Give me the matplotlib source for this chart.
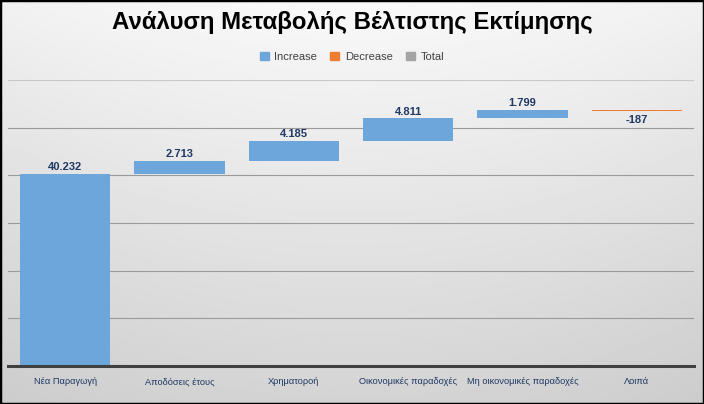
import numpy as np
import matplotlib
matplotlib.use('Agg')
from matplotlib import pyplot as plt
from matplotlib.patches import Patch, Rectangle

plt.rcParams['font.family'] = ['Liberation Sans', 'DejaVu Sans']

categories = ['Νέα Παραγωγή', 'Αποδόσεις έτους', 'Χρηματοροή',
              'Οικονομικές παραδοχές', 'Μη οικονομικές παραδοχές', 'Λοιπά']
values = [40232, 2713, 4185, 4811, 1799, -187]
labels = ['40.232', '2.713', '4.185', '4.811', '1.799', '-187']

blue = '#6ca6da'
orange = '#ed7d31'
gray = '#a5a5a5'
navy = '#1f3864'

values = np.array(values)
ends = np.cumsum(values)
starts = ends - values
bottoms = np.minimum(starts, ends)
heights = np.abs(values)
colors = [blue if v >= 0 else orange for v in values]

fig = plt.figure(figsize=(7.04, 4.04), dpi=100)

# background gradient
bg = fig.add_axes([0, 0, 1, 1], zorder=-10)
grad = np.linspace(0.975, 0.83, 256).reshape(-1, 1)
xs = np.linspace(-1, 1, 256)
grad = grad - 0.03 * (xs.reshape(1, -1) ** 2)
bg.imshow(grad, cmap='gray', vmin=0, vmax=1, aspect='auto', extent=[0, 1, 0, 1])
bg.set_axis_off()

ax = fig.add_axes([8 / 704, 38 / 404, 686 / 704, 286 / 404])
ax.patch.set_alpha(0)
x = np.arange(len(categories))
ax.bar(x, heights, bottom=bottoms, width=0.79, color=colors, zorder=3)
for i, v in enumerate(values):
    top = max(starts[i], ends[i])
    low = min(starts[i], ends[i])
    if v >= 0:
        ax.text(i, top + 400, labels[i], ha='center', va='bottom', fontsize=8,
                fontweight='bold', color=navy, zorder=4)
    else:
        ax.text(i, low - 900, labels[i], ha='center', va='top', fontsize=8,
                fontweight='bold', color=navy, zorder=4)

ax.set_ylim(0, 60000)
ax.set_xlim(-0.5, len(categories) - 0.5)
ax.set_yticks(np.arange(10000, 60001, 10000))
ax.yaxis.grid(True, color='#9a9a9a', lw=0.8)
ax.get_ygridlines()[-1].set_color('#c8c8c8')
ax.tick_params(axis='y', length=0, labelleft=False)
ax.set_xticks(x)
ax.tick_params(axis='x', length=0, labelbottom=False)
# category labels on a common baseline
for i, name in enumerate(categories):
    ax.text(x[i], -0.063, name, transform=ax.get_xaxis_transform(), ha='center',
            va='baseline', fontsize=6.7, color=navy)
for s in ['top', 'right', 'left']:
    ax.spines[s].set_visible(False)
ax.spines['bottom'].set_color('#404040')
ax.spines['bottom'].set_linewidth(2.2)
ax.spines['bottom'].set_zorder(5)

fig.text(0.5, 1 - 22 / 404, 'Ανάλυση Μεταβολής Βέλτιστης Εκτίμησης', ha='center', va='center',
         fontsize=17.3, fontweight='bold', color='black')

handles = [Patch(color=blue, label='Increase'), Patch(color=orange, label='Decrease'),
           Patch(color=gray, label='Total')]
fig.legend(handles=handles, loc='center', bbox_to_anchor=(0.5, 1 - 57 / 404), ncol=3,
           frameon=False, fontsize=8, handlelength=0.8, handleheight=0.8,
           columnspacing=1.2, handletextpad=0.5, labelcolor='#404040')

fig.add_artist(Rectangle((0, 0), 1, 1, transform=fig.transFigure, fill=False,
                         edgecolor='black', lw=2.5))

fig.savefig('out.png', dpi=100)
